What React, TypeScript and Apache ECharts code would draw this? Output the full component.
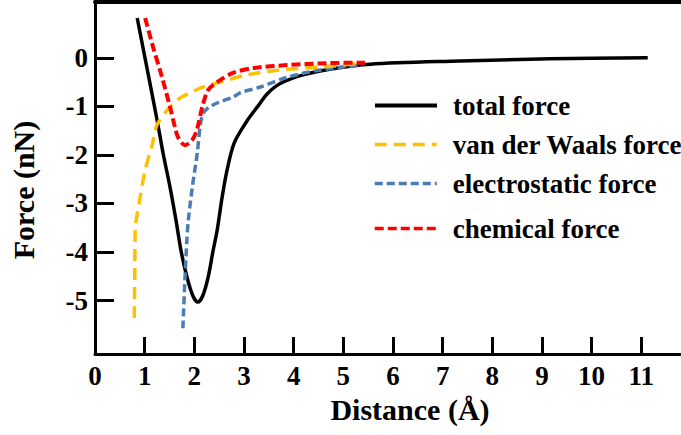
import React, { useEffect, useRef } from "react";
import * as echarts from "echarts";

// Force curves, [distance (Å), force (nN)]
const totalForce: number[][] = [
  [0.85, 0.82], [1.25, -1.28], [1.37, -1.96], [1.51, -2.66], [1.63, -3.34],
  [1.73, -3.96], [1.85, -4.51], [1.97, -4.9], [2.07, -5.03], [2.17, -4.9],
  [2.28, -4.51], [2.38, -3.96], [2.46, -3.55], [2.56, -2.87], [2.66, -2.31],
  [2.8, -1.76], [3.06, -1.3], [3.27, -1.01], [3.47, -0.74], [3.73, -0.53],
  [4.19, -0.35], [4.88, -0.21], [5.54, -0.13], [7.16, -0.07], [9.17, -0.02],
  [11.13, 0.0],
];

const vdwForce: number[][] = [
  [0.79, -5.36], [0.8, -4.58], [0.81, -3.55], [0.91, -2.87], [1.01, -2.31],
  [1.15, -1.8], [1.25, -1.38], [1.51, -1.01], [1.71, -0.83], [1.96, -0.7],
  [2.18, -0.6], [2.52, -0.5], [3.07, -0.35], [3.73, -0.25], [4.54, -0.19],
  [5.38, -0.11],
];

const electrostaticForce: number[][] = [
  [1.77, -5.57], [1.81, -4.58], [1.85, -3.75], [1.88, -3.34], [1.96, -2.66],
  [2.06, -1.96], [2.12, -1.38], [2.18, -1.14], [2.28, -1.03], [2.46, -0.93],
  [2.78, -0.81], [2.92, -0.72], [3.33, -0.6], [3.87, -0.4], [4.54, -0.25],
  [5.38, -0.15],
];

const chemicalForce: number[][] = [
  [1.01, 0.82], [1.17, 0.22], [1.35, -0.4], [1.51, -1.01], [1.61, -1.43],
  [1.67, -1.63], [1.81, -1.8], [1.96, -1.69], [2.06, -1.45], [2.16, -1.01],
  [2.28, -0.66], [2.46, -0.5], [2.78, -0.31], [3.19, -0.21], [3.87, -0.15],
  [4.68, -0.11], [5.44, -0.1],
];

const xTickValues = [1, 2, 3, 4, 5, 6, 7, 8, 9, 10, 11];
const xLabelValues = [0, 1, 2, 3, 4, 5, 6, 7, 8, 9, 10, 11];
const yTickValues = [-5, -4, -3, -2, -1, 0];

const seriesNames = [
  "total force",
  "van der Waals force",
  "electrostatic force",
  "chemical force",
];

const FONT = "'Liberation Serif', 'Times New Roman', serif";

export default function App() {
  const ref = useRef<HTMLDivElement>(null);

  useEffect(() => {
    if (!ref.current) return;
    const chart = echarts.init(ref.current, undefined, { renderer: "svg" });

    const labelStyle = {
      color: "#000",
      fontFamily: FONT,
      fontWeight: "bold" as const,
      fontSize: 27,
    };

    // one legend block per row so each row sits at its own height
    const legendRows = [106, 145, 184, 229];
    const legends = seriesNames.map((name, i) => ({
      data: [name],
      left: 368,
      top: legendRows[i] - 19,
      orient: "vertical" as const,
      itemWidth: 62,
      itemHeight: 28,
      selectedMode: false,
      itemStyle: { opacity: 0 },
      lineStyle: { width: i === 0 ? 4 : 3.5 },
      textStyle: {
        ...labelStyle,
        fontSize: 27,
        padding: [0, 0, 0, 11],
      },
    }));

    chart.setOption({
      animation: false,
      backgroundColor: "#fff",
      grid: { left: 95, right: 0, top: 2, bottom: 81, containLabel: false },
      legend: legends,
      xAxis: [
        {
          type: "value",
          min: 0,
          max: 11.8,
          position: "bottom",
          splitLine: { show: false },
          axisLine: { onZero: false, lineStyle: { color: "#000", width: 3 } },
          axisTick: {
            inside: true,
            length: 17,
            lineStyle: { color: "#000", width: 3 },
            customValues: xTickValues,
          },
          axisLabel: { ...labelStyle, margin: 8, customValues: xLabelValues },
          name: "Distance (Å)",
          nameLocation: "middle",
          nameGap: 40,
          nameTextStyle: { ...labelStyle, fontSize: 30, padding: [0, 0, 0, 44] },
        },
        {
          type: "value",
          min: 0,
          max: 11.8,
          position: "top",
          splitLine: { show: false },
          axisLine: { onZero: false, lineStyle: { color: "#000", width: 4 } },
          axisTick: { show: false },
          axisLabel: { show: false },
        },
      ],
      yAxis: {
        type: "value",
        min: -6.1,
        max: 1.15,
        splitLine: { show: false },
        axisLine: { onZero: false, lineStyle: { color: "#000", width: 3 } },
        axisTick: {
          inside: true,
          length: 19,
          lineStyle: { color: "#000", width: 3 },
          customValues: yTickValues,
        },
        axisLabel: { ...labelStyle, margin: 7, customValues: yTickValues },
        name: "Force (nN)",
        nameLocation: "middle",
        nameGap: 57,
        nameTextStyle: { ...labelStyle, fontSize: 30, padding: [0, 24, 0, 0] },
      },
      series: [
        {
          name: seriesNames[0],
          type: "line",
          data: totalForce,
          symbol: "none",
          smooth: 0.3,
          lineStyle: { color: "#000", width: 3.5 },
          itemStyle: { color: "#000" },
          z: 2,
        },
        {
          name: seriesNames[2],
          type: "line",
          data: electrostaticForce,
          symbol: "none",
          smooth: 0.3,
          lineStyle: { color: "#4a7db5", width: 3.5, type: [8, 4] },
          itemStyle: { color: "#4a7db5" },
          z: 3,
        },
        {
          name: seriesNames[1],
          type: "line",
          data: vdwForce,
          symbol: "none",
          smooth: 0.3,
          lineStyle: { color: "#ffc000", width: 3.5, type: [12, 7] },
          itemStyle: { color: "#ffc000" },
          z: 4,
        },
        {
          name: seriesNames[3],
          type: "line",
          data: chemicalForce,
          symbol: "none",
          smooth: 0.3,
          lineStyle: { color: "#ff0000", width: 4, type: [9, 4] },
          itemStyle: { color: "#ff0000" },
          z: 5,
        },
      ],
    });

    return () => chart.dispose();
  }, []);

  return (
    <div
      ref={ref}
      style={{ position: "fixed", left: 0, top: 0, width: 681, height: 435 }}
    />
  );
}
